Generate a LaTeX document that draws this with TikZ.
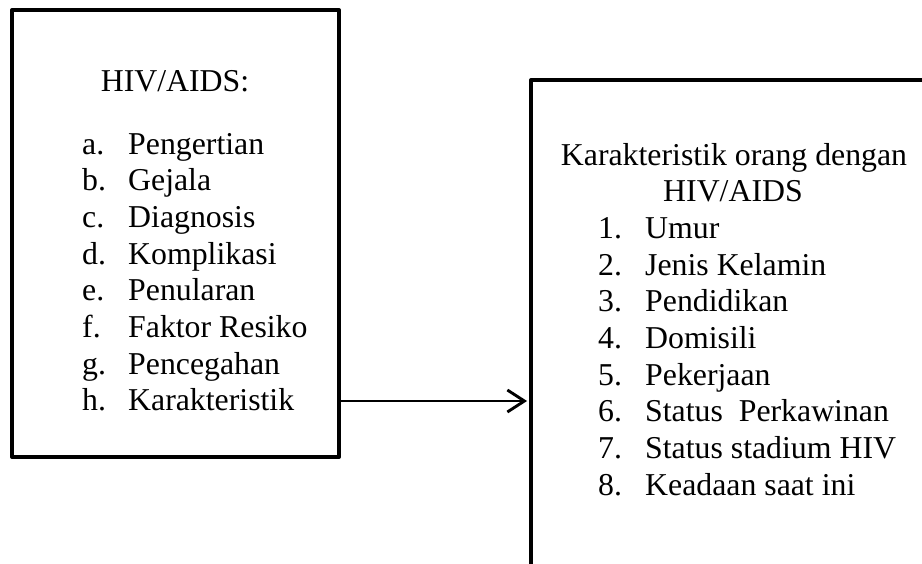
\documentclass[tikz,border=0pt]{standalone}
\usepackage{fontspec}
\setmainfont{Liberation Serif}
\usetikzlibrary{arrows.meta}
\tikzset{
  boxstyle/.style={draw=black, line width=3.9pt, line join=round, fill=none, inner sep=0pt},
  txt/.style={inner sep=0pt, font=\fontsize{31.8}{36.7}\selectfont},
  arr/.style={line width=2.9pt, -{Straight Barb[length=17pt,width=22pt,line width=2.9pt]}, line cap=round}
}
\begin{document}
\begin{tikzpicture}[x=1pt,y=-1pt]
\useasboundingbox (0,0) rectangle (922,563);
\clip (0,0) rectangle (922,563);
\fill[white] (0,0) rectangle (922,563);
% boxes
\node[boxstyle, minimum width=327pt, minimum height=447pt] (left) at (175.5,233.5) {};
\node[boxstyle, minimum width=500pt, minimum height=620pt] (right) at (781,390) {};
% left text
\node[txt, anchor=base] (ltitle) at (175,91) {HIV/AIDS:};
\foreach \l/\t [count=\i from 0] in {a./Pengertian, b./Gejala, c./Diagnosis, d./Komplikasi, e./Penularan, f./Faktor Resiko, g./Pencegahan, h./Karakteristik}{
  \node[txt, anchor=base west] (ll\i) at (82,154+\i*36.7) {\l};
  \node[txt, anchor=base west] (lt\i) at (128,154+\i*36.7) {\t};
}
% right text
\node[txt, anchor=base] (rtitle1) at (734,165) {Karakteristik orang dengan};
\node[txt, anchor=base] (rtitle2) at (733,201.7) {HIV/AIDS};
\foreach \l/\t [count=\i from 0] in {1./Umur, 2./Jenis Kelamin, 3./Pendidikan, 4./Domisili, 5./Pekerjaan, 6./Status\ \ Perkawinan, 7./Status stadium HIV, 8./Keadaan saat ini}{
  \node[txt, anchor=base west] (rl\i) at (598,238.4+\i*36.7) {\l};
  \node[txt, anchor=base west] (rt\i) at (645,238.4+\i*36.7) {\t};
}
% connector
\draw[arr] (left.east |- 0,401) -- ([xshift=-2pt]right.west |- 0,401);
\end{tikzpicture}
\end{document}
